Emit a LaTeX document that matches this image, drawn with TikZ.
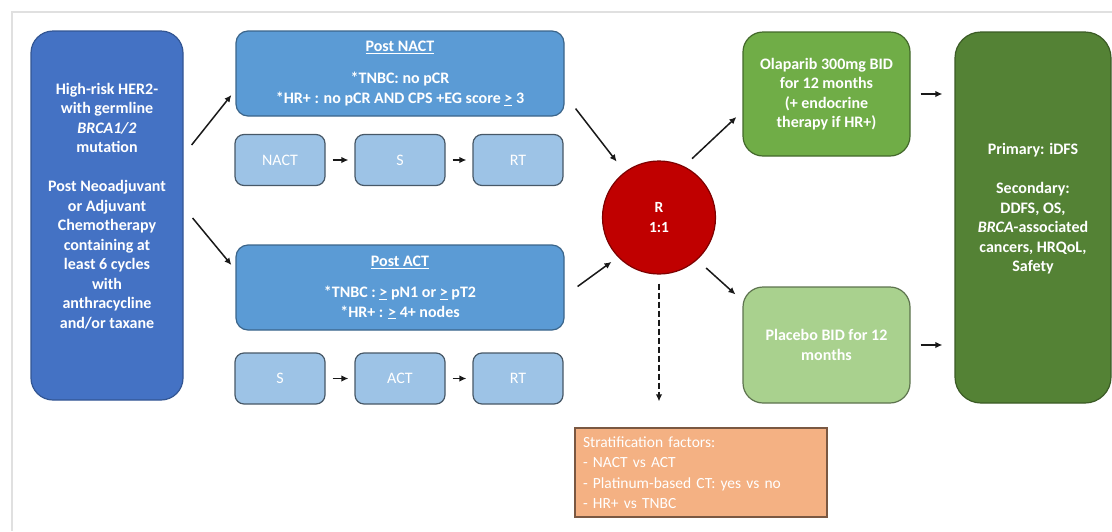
\documentclass[tikz,border=0pt]{standalone}
\usepackage{fontspec}
\setmainfont{Carlito}
\usetikzlibrary{arrows.meta}
\definecolor{popblue}{RGB}{68,114,196}
\definecolor{critblue}{RGB}{91,155,213}
\definecolor{seqblue}{RGB}{157,195,230}
\definecolor{randred}{RGB}{192,0,0}
\definecolor{olapgreen}{RGB}{112,173,71}
\definecolor{placgreen}{RGB}{169,209,142}
\definecolor{endpgreen}{RGB}{84,130,53}
\definecolor{stratorange}{RGB}{244,177,131}
\begin{document}
\begin{tikzpicture}[x=1pt,y=-1pt,
    txt/.style={text=white,font=\fontsize{16}{19.5}\selectfont\bfseries,align=center},
    box/.style={txt,draw,line width=1.2pt,inner sep=0pt},
    pop/.style={box,fill=popblue,draw=popblue!75!black,rounded corners=22pt},
    crit/.style={box,fill=critblue,draw=critblue!65!black,rounded corners=12pt,minimum width=328pt,minimum height=85pt},
    seq/.style={box,fill=seqblue,draw=seqblue!45!black,rounded corners=9pt,minimum width=90pt,minimum height=51pt,font=\fontsize{16}{19}\selectfont},
    arm/.style={box,rounded corners=20pt,minimum width=167pt},
    arr/.style={-{Latex[length=7pt,width=6.5pt]},line width=1.5pt,black!90},
  ]
  \useasboundingbox (0,0) rectangle (1112,531);%
  \draw[black!12,line width=1.5pt] (12,531) -- (12,12) -- (1112,12);%

  \node[pop,minimum width=152pt,minimum height=369pt] (pop) at (107,215.5) {High-risk HER2-\\with germline\\\textit{BRCA1/2}\\mutation\\[19.5pt]Post Neoadjuvant\\or Adjuvant\\Chemotherapy\\containing at\\least 6 cycles\\with\\anthracycline\\and/or taxane\\\mbox{}};%

  \node[crit] (nactcrit) at (400,73.5) {\underline{Post NACT}\\[13pt]*TNBC: no pCR\\*HR+ : no pCR AND CPS +EG score \underline{>} 3};%
  \node[crit] (actcrit) at (400,287.5) {\underline{Post ACT}\\[12pt]*TNBC : \underline{>} pN1 or \underline{>} pT2\\*HR+ : \underline{>} 4+ nodes};%

  \node[seq] (nact) at (280,160) {NACT};%
  \node[seq] (s1) at (400,160) {S};%
  \node[seq] (rt1) at (518,160) {RT};%
  \node[seq] (s2) at (280,378.5) {S};%
  \node[seq] (act) at (400,378.5) {ACT};%
  \node[seq] (rt2) at (518,378.5) {RT};%

  \node[circle,txt,fill=randred,draw=randred!65!black,line width=1.2pt,minimum size=113pt,inner sep=0pt,font=\fontsize{15.5}{20}\selectfont\bfseries] (rand) at (659,217.5) {R\\1:1};%

  \node[arm,fill=olapgreen,draw=olapgreen!60!black,minimum height=124pt] (olap) at (826.5,94) {Olaparib 300mg BID\\for 12 months\\(+ endocrine\\therapy if HR+)};%
  \node[arm,fill=placgreen,draw=placgreen!55!black,minimum height=116pt] (plac) at (826.5,345) {Placebo BID for 12\\months};%
  \node[box,fill=endpgreen,draw=endpgreen!70!black,rounded corners=26pt,minimum width=156pt,minimum height=371pt] (endp) at (1033,217.5) {Primary: iDFS\\[19.5pt]Secondary:\\DDFS, OS,\\\textit{BRCA}-associated\\cancers, HRQoL,\\Safety\\\mbox{}};%

  \node[draw=stratorange!50!black,line width=1.2pt,fill=stratorange,text=white,font=\fontsize{15.5}{20.5}\selectfont,align=left,text width=236pt,inner sep=8pt,minimum height=89pt] (strat) at (701,472.5) {Stratification factors:\\- NACT vs ACT\\- Platinum-based CT: yes vs no\\- HR+ vs TNBC};%

  \draw[arr] ([shift={(8,-70.5)}]pop.east) -- ([shift={(-4,21.5)}]nactcrit.west);%
  \draw[arr] ([shift={(9,2.5)}]pop.east) -- ([shift={(-4,-22.5)}]actcrit.west);%
  \foreach \a/\b in {nact/s1,s1/rt1,s2/act,act/rt2}
    \draw[arr,shorten <=7pt,shorten >=6pt] (\a) -- (\b);%

  \draw[arr,shorten >=13pt] ([shift={(11,-8)}]nactcrit.south east) -- (rand.127);%
  \draw[arr,shorten >=8pt] ([shift={(13,-1)}]actcrit.east) -- (rand.224);%
  \draw[arr,shorten <=11pt] (rand.64) -- ([shift={(-6,23)}]olap.west);%
  \draw[arr,shorten <=12pt] (rand.-48) -- ([shift={(-7,8)}]plac.north west);%
  \draw[arr,shorten <=10pt,shorten >=12pt] (olap.east) -- (olap.east -| endp.west);%
  \draw[arr,shorten <=10pt,shorten >=12pt] (plac.east) -- (plac.east -| endp.west);%
  \draw[arr,dash pattern=on 6pt off 3pt,shorten <=9pt,shorten >=26pt] (rand.south) -- (rand.south |- strat.north);%
\end{tikzpicture}
\end{document}
